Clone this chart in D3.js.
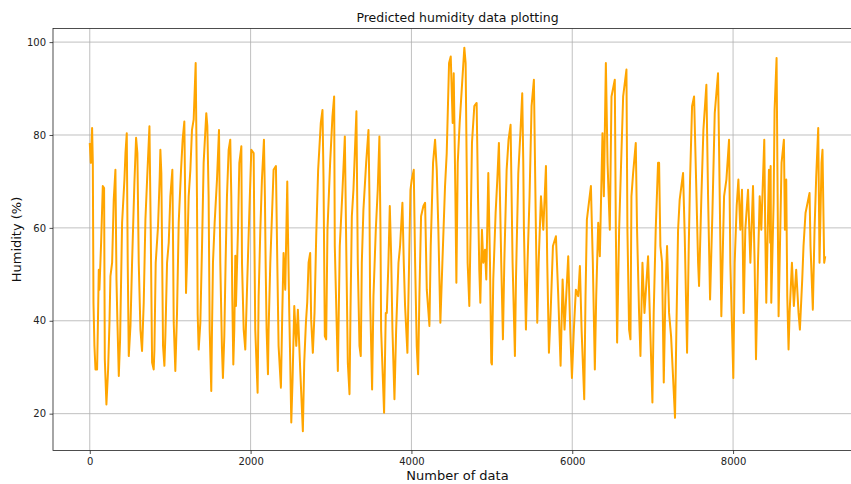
<!DOCTYPE html>
<html>
<head>
<meta charset="utf-8">
<script src="https://cdn.jsdelivr.net/npm/d3@7"></script>
<style>
  body { margin: 0; background: #fff; }
  svg { display: block; font-family: "DejaVu Sans", sans-serif; }
</style>
</head>
<body>
<svg></svg>
<script>
var title = 'Predicted humidity data plotting';
var xLabel = 'Number of data';
var yLabel = 'Humidity (%)';
var xTicks = [0, 2000, 4000, 6000, 8000];
var yTicks = [20, 40, 60, 80, 100];

// [sample index, humidity %] (peaks, troughs and bends)
var humidityReadings = [
  [0,78.3],[13,74.0],[29,81.5],[38,74.0],[46,43.9],[58,34.6],[71,29.5],[91,29.5],[100,38.1],[112,51.0],
  [120,46.7],[141,56.8],[162,69.0],[178,68.6],[187,31.7],[207,22.0],[228,29.5],[245,39.6],[257,49.6],[278,52.5],
  [298,66.1],[319,72.5],[332,48.9],[344,39.6],[361,28.1],[377,36.0],[402,61.1],[431,70.4],[444,76.1],[460,80.4],
  [472,52.5],[485,32.4],[506,38.9],[526,52.5],[555,69.7],[576,79.4],[592,76.1],[609,52.5],[630,38.1],[650,33.5],
  [671,43.9],[692,61.8],[713,70.4],[742,81.9],[758,59.6],[775,31.0],[795,29.5],[804,33.8],[820,52.5],[849,60.4],
  [870,71.1],[878,76.8],[890,71.8],[911,34.6],[928,30.3],[940,36.7],[961,52.5],[982,56.8],[1002,66.8],[1027,72.5],
  [1035,58.2],[1044,39.6],[1064,29.2],[1085,41.7],[1106,61.1],[1135,72.5],[1155,79.0],[1176,82.9],[1184,70.4],[1197,46.0],
  [1209,52.5],[1230,66.8],[1251,72.5],[1271,81.1],[1292,83.3],[1317,95.5],[1325,81.1],[1333,66.8],[1342,41.4],[1354,33.8],
  [1375,39.6],[1396,56.1],[1416,74.0],[1449,84.7],[1462,81.9],[1478,66.8],[1491,38.1],[1511,24.9],[1520,38.1],[1532,52.5],
  [1553,61.1],[1582,70.4],[1607,81.1],[1615,66.8],[1623,52.5],[1644,33.8],[1656,27.7],[1673,36.7],[1689,52.5],[1706,66.8],
  [1727,76.8],[1747,79.0],[1760,66.8],[1772,45.3],[1785,30.6],[1797,38.1],[1810,54.0],[1818,43.2],[1843,59.6],[1860,74.0],
  [1880,76.8],[1885,77.6],[1893,52.5],[1914,38.1],[1934,33.8],[1959,48.9],[1984,63.2],[2009,76.8],[2038,76.1],[2046,59.6],
  [2058,38.1],[2087,24.5],[2100,45.3],[2121,59.6],[2141,70.4],[2166,79.0],[2178,66.8],[2187,52.5],[2199,38.1],[2216,28.5],
  [2224,38.1],[2245,52.5],[2286,72.5],[2315,73.3],[2332,52.5],[2348,34.6],[2377,25.6],[2394,41.7],[2410,54.6],[2431,46.7],
  [2456,70.0],[2464,59.6],[2481,41.7],[2493,31.0],[2506,18.1],[2522,27.4],[2543,43.2],[2568,34.6],[2588,42.4],[2617,29.5],
  [2650,16.2],[2667,31.0],[2688,39.6],[2704,43.9],[2721,52.5],[2741,54.6],[2753,40.3],[2774,33.1],[2795,41.7],[2816,58.2],
  [2840,72.5],[2873,82.6],[2894,85.4],[2907,70.4],[2923,36.7],[2940,36.0],[2956,59.6],[2989,74.0],[3018,84.0],[3039,88.3],
  [3047,56.1],[3072,38.1],[3085,29.2],[3109,56.1],[3143,68.2],[3172,79.7],[3192,52.5],[3209,31.0],[3230,24.2],[3242,41.7],
  [3259,62.5],[3279,68.2],[3316,85.1],[3333,52.5],[3354,34.6],[3370,32.4],[3383,52.5],[3403,63.9],[3437,74.0],[3466,81.1],
  [3478,66.8],[3486,45.3],[3511,25.2],[3528,45.3],[3557,59.6],[3581,68.2],[3602,79.7],[3615,59.6],[3623,38.1],[3660,20.2],
  [3681,41.7],[3694,41.7],[3714,52.5],[3731,64.7],[3748,53.9],[3764,38.1],[3789,23.1],[3810,38.1],[3839,52.5],[3859,56.1],
  [3888,65.4],[3905,52.5],[3921,43.2],[3950,33.1],[3971,52.5],[3988,68.2],[4004,70.4],[4029,72.5],[4046,52.5],[4066,34.6],
  [4083,28.5],[4099,45.3],[4120,62.5],[4149,64.7],[4170,65.4],[4191,46.7],[4224,38.9],[4240,56.1],[4269,74.0],[4294,79.0],
  [4315,72.5],[4335,59.6],[4360,39.6],[4385,52.5],[4418,69.0],[4439,76.1],[4468,95.5],[4489,96.9],[4513,82.6],[4526,93.3],
  [4547,66.8],[4559,48.2],[4576,74.0],[4600,82.6],[4658,98.8],[4674,95.5],[4687,74.0],[4699,52.5],[4720,43.2],[4736,59.6],
  [4753,78.3],[4782,86.2],[4811,86.9],[4828,66.8],[4844,51.0],[4857,43.9],[4877,59.6],[4894,52.5],[4915,55.3],[4931,48.9],
  [4956,71.8],[4977,52.5],[4993,31.0],[5001,30.6],[5018,48.9],[5047,63.2],[5068,70.4],[5088,78.3],[5101,66.8],[5117,52.5],
  [5138,36.0],[5155,52.5],[5184,72.5],[5208,79.0],[5233,82.2],[5246,66.8],[5258,52.5],[5287,32.4],[5300,48.9],[5329,71.8],
  [5357,81.1],[5378,89.0],[5391,74.0],[5399,59.6],[5424,38.1],[5444,52.5],[5469,66.8],[5494,86.2],[5523,91.9],[5548,59.6],
  [5565,39.6],[5582,52.5],[5611,66.8],[5640,59.6],[5673,73.3],[5689,52.5],[5710,33.1],[5731,41.7],[5760,56.1],[5797,58.2],
  [5826,45.3],[5855,30.3],[5880,48.9],[5904,38.1],[5950,53.9],[5975,38.1],[5996,27.7],[6020,38.1],[6045,46.7],[6074,45.3],
  [6095,51.8],[6116,38.1],[6149,23.1],[6165,45.3],[6182,61.8],[6232,69.0],[6256,52.5],[6281,29.5],[6298,45.3],[6323,61.1],
  [6343,53.9],[6376,80.4],[6393,66.8],[6418,95.5],[6439,74.0],[6467,59.6],[6488,88.3],[6529,91.9],[6542,59.6],[6558,35.3],
  [6583,59.6],[6604,71.8],[6633,88.3],[6674,94.1],[6686,59.6],[6707,38.1],[6724,36.0],[6736,66.8],[6757,71.8],[6790,78.3],
  [6806,59.6],[6831,41.7],[6848,32.4],[6873,52.5],[6898,41.7],[6943,53.9],[6964,41.7],[6997,22.4],[7013,41.7],[7038,59.6],
  [7067,74.0],[7080,74.0],[7096,56.1],[7117,52.5],[7138,26.7],[7158,45.3],[7179,56.1],[7204,41.7],[7229,36.7],[7278,19.1],
  [7295,38.1],[7316,59.6],[7336,66.1],[7378,71.8],[7399,58.2],[7428,33.1],[7449,56.1],[7465,70.4],[7490,86.2],[7515,88.3],
  [7540,70.4],[7565,52.5],[7577,47.5],[7606,66.8],[7631,81.1],[7668,90.8],[7689,66.8],[7714,44.6],[7743,63.2],[7772,84.7],
  [7813,93.3],[7834,66.8],[7854,41.0],[7888,66.8],[7917,70.4],[7950,79.0],[7966,52.5],[8003,27.7],[8020,52.5],[8045,64.7],
  [8066,70.4],[8090,59.6],[8111,68.2],[8132,41.7],[8152,59.6],[8186,68.2],[8215,52.5],[8248,69.0],[8268,52.5],[8285,31.7],
  [8310,52.5],[8331,66.8],[8351,59.6],[8388,79.0],[8400,59.6],[8413,43.9],[8446,72.5],[8462,56.8],[8467,73.3],[8475,43.9],
  [8504,65.4],[8516,85.4],[8541,96.6],[8554,66.8],[8566,41.0],[8587,59.6],[8603,74.0],[8632,79.0],[8645,59.6],[8661,70.4],
  [8674,45.3],[8690,33.8],[8703,41.7],[8732,52.5],[8756,43.2],[8785,51.0],[8814,41.7],[8831,38.1],[8860,48.9],[8876,56.1],
  [8901,63.2],[8951,67.5],[8963,56.1],[8992,42.4],[9013,59.6],[9034,71.1],[9059,81.5],[9075,52.5],[9100,74.0],[9112,76.8],
  [9133,52.5],[9146,53.9]
];

var width = 851, height = 484;
// the axes box runs past the right edge of the picture, as in the original
var margin = { top: 28.5, right: -11, bottom: 33.5, left: 53 };
var innerW = width - margin.left - margin.right;
var innerH = height - margin.top - margin.bottom;

var svg = d3.select('svg')
  .attr('width', width)
  .attr('height', height);

// matplotlib style 5% padding on both axes
function padded(ext) {
  var p = (ext[1] - ext[0]) * 0.05;
  return [ext[0] - p, ext[1] + p];
}

var x = d3.scaleLinear()
  .domain(padded(d3.extent(humidityReadings, d => d[0])))
  .range([0, innerW]);
var y = d3.scaleLinear()
  .domain(padded(d3.extent(humidityReadings, d => d[1])))
  .range([innerH, 0]);

var g = svg.append('g')
  .attr('transform', 'translate(' + margin.left + ',' + margin.top + ')');

g.append('clipPath').attr('id', 'plot-clip')
  .append('rect').attr('width', innerW).attr('height', innerH);

// grid
g.append('g').selectAll('line')
  .data(xTicks)
  .enter().append('line')
    .attr('x1', d => x(d)).attr('x2', d => x(d))
    .attr('y1', 0).attr('y2', innerH)
    .attr('stroke', '#b0b0b0').attr('stroke-width', 0.8);
g.append('g').selectAll('line')
  .data(yTicks)
  .enter().append('line')
    .attr('x1', 0).attr('x2', innerW)
    .attr('y1', d => y(d)).attr('y2', d => y(d))
    .attr('stroke', '#b0b0b0').attr('stroke-width', 0.8);

var line = d3.line()
  .x(d => x(d[0]))
  .y(d => y(d[1]));

g.append('path')
  .datum(humidityReadings)
  .attr('clip-path', 'url(#plot-clip)')
  .attr('fill', 'none')
  .attr('stroke', '#ffa500')
  .attr('stroke-width', 2)
  .attr('stroke-linejoin', 'round')
  .attr('d', line);

// frame
g.append('rect')
  .attr('width', innerW).attr('height', innerH)
  .attr('fill', 'none')
  .attr('stroke', '#222').attr('stroke-width', 0.8);

var xAxis = g.append('g')
  .attr('transform', 'translate(0,' + innerH + ')')
  .call(d3.axisBottom(x).tickValues(xTicks).tickFormat(d3.format('d'))
    .tickSize(3.5).tickPadding(3.5).tickSizeOuter(0));
var yAxis = g.append('g')
  .call(d3.axisLeft(y).tickValues(yTicks).tickFormat(d3.format('d'))
    .tickSize(3.5).tickPadding(3.5).tickSizeOuter(0));

[xAxis, yAxis].forEach(function(a) {
  a.select('.domain').remove();
  a.selectAll('line').attr('stroke', '#222').attr('stroke-width', 0.8);
  a.selectAll('text')
    .attr('fill', '#222')
    .style('font-family', '"DejaVu Sans", sans-serif')
    .style('font-size', '10px');
});

svg.append('text')
  .attr('x', margin.left + innerW / 2)
  .attr('y', 22)
  .attr('text-anchor', 'middle')
  .style('font-size', '12.5px')
  .attr('fill', '#111')
  .text(title);

svg.append('text')
  .attr('x', margin.left + innerW / 2)
  .attr('y', 480)
  .attr('text-anchor', 'middle')
  .style('font-size', '13px')
  .attr('fill', '#111')
  .text(xLabel);

svg.append('text')
  .attr('transform', 'translate(21,' + (margin.top + innerH / 2) + ') rotate(-90)')
  .attr('text-anchor', 'middle')
  .style('font-size', '13px')
  .attr('fill', '#111')
  .text(yLabel);
</script>
</body>
</html>
